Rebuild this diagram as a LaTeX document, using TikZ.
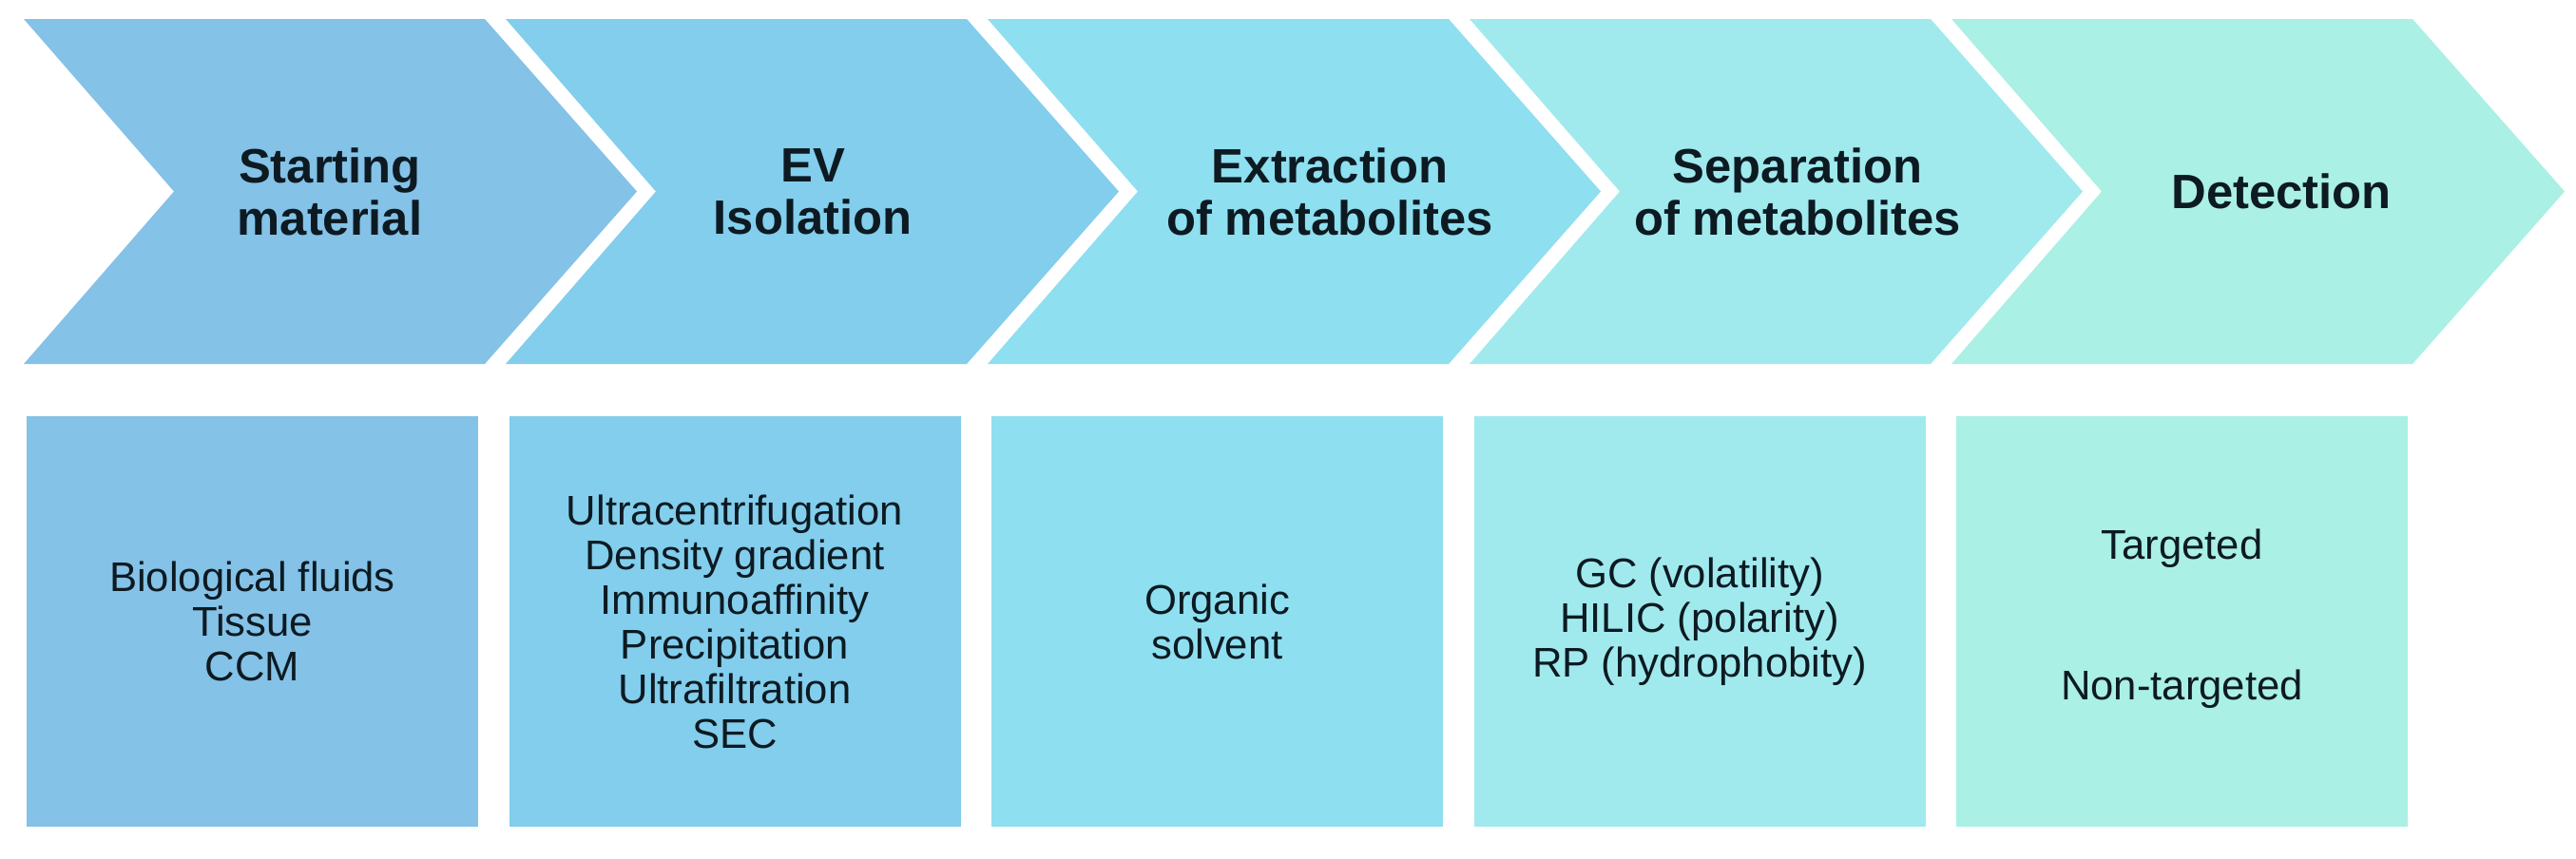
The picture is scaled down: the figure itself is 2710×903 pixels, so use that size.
\documentclass[tikz,border=0pt]{standalone}
\usepackage{fontspec}
\setmainfont{Liberation Sans}
\definecolor{c1}{HTML}{84C2E7}
\definecolor{c2}{HTML}{82CEEC}
\definecolor{c3}{HTML}{8EDFF0}
\definecolor{c4}{HTML}{A0EAEE}
\definecolor{c5}{HTML}{AAF0E4}
\definecolor{ink}{HTML}{0D1A22}
\begin{document}
\begin{tikzpicture}[x=0.01cm,y=-0.01cm,
  title/.style={font=\bfseries\fontsize{14.43pt}{15.65pt}\selectfont, align=center, inner sep=0pt, text=ink},
  body/.style={font=\fontsize{12.41pt}{13.37pt}\selectfont, align=center, inner sep=0pt, text=ink}]
\useasboundingbox (0,0) rectangle (2710,903);
\fill[white] (0,0) rectangle (2710,903);
\foreach \i/\c in {0/c1,1/c2,2/c3,3/c4,4/c5}{
  \pgfmathsetmacro{\xo}{25+507*\i}
  \fill[\c] (\xo,20) -- ++(485,0) -- ++(160,181.5) -- ++(-160,181.5) -- ++(-485,0) -- ++(158,-181.5) -- cycle;
  \pgfmathsetmacro{\bx}{28+507.5*\i}
  \fill[\c] (\bx,438) rectangle ++(475,432);
}
\node[title] (t1) at (347,201.5) {Starting\\material};
\node[title] (t2) at (855,201.5) {EV\\Isolation};
\node[title] (t3) at (1399,201.5) {Extraction\\of metabolites};
\node[title] (t4) at (1891,201.5) {Separation\\of metabolites};
\node[title] (t5) at (2400,201.5) {Detection};
\node[body] (b1) at (265.5,654) {Biological fluids\\Tissue\\CCM};
\node[body] (b2) at (773,654) {Ultracentrifugation\\Density gradient\\Immunoaffinity\\Precipitation\\Ultrafiltration\\SEC};
\node[body] (b3) at (1280.5,654) {Organic\\solvent};
\node[body] (b4) at (1788,654) {GC (volatility)\\HILIC (polarity)\\RP (hydrophobity)};
\node[body] (b5) at (2295.5,651) {Targeted\\[1.01cm]Non-targeted};
\end{tikzpicture}
\end{document}
